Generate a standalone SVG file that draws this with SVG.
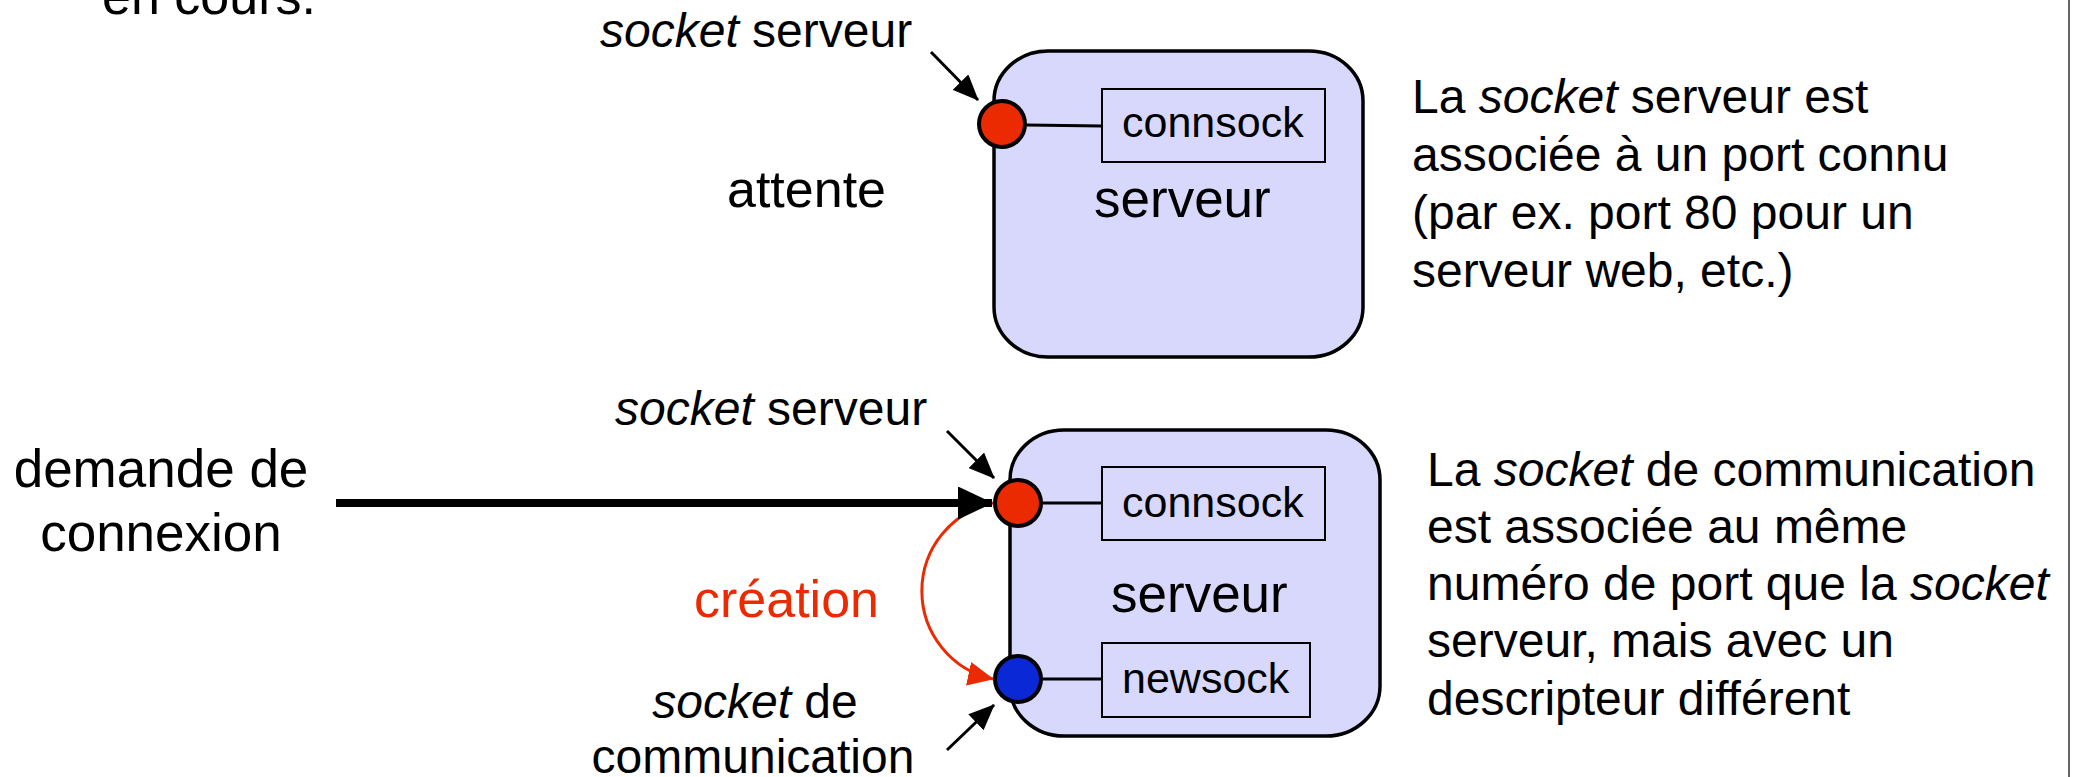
<svg xmlns="http://www.w3.org/2000/svg" width="2075" height="777" viewBox="0 0 2075 777">
<style>
text{font-family:"Liberation Sans",Arial,Helvetica,sans-serif;fill:#000}
.big{font-size:53px}
.lbl{font-size:48px}
.sock{font-size:43px}
.it{font-style:italic}
.box{fill:#D8D8FD;stroke:#000;stroke-width:3.5}
.inner{fill:none;stroke:#000;stroke-width:2}
.link{stroke:#000;stroke-width:3}
.red{fill:#EB2A02;stroke:#000;stroke-width:4}
.blue{fill:#0A28D6;stroke:#000;stroke-width:4}
.thin{stroke:#000;stroke-width:3;fill:none}
</style>
<defs>
<marker id="ah" viewBox="0 0 26 22" refX="25" refY="11" markerWidth="26" markerHeight="22" markerUnits="userSpaceOnUse" orient="auto"><path d="M0,0 L26,11 L0,22 z" fill="#000"/></marker>
<marker id="ahThick" viewBox="0 0 35 33" refX="34" refY="16.5" markerWidth="35" markerHeight="33" markerUnits="userSpaceOnUse" orient="auto"><path d="M0,0 L35,16.5 L0,33 z" fill="#000"/></marker>
<marker id="ahRed" viewBox="0 0 26 24" refX="25" refY="12" markerWidth="26" markerHeight="24" markerUnits="userSpaceOnUse" orient="auto"><path d="M0,0 L26,12 L0,24 z" fill="#EB2A02"/></marker>
</defs>

<line x1="2069" y1="0" x2="2069" y2="777" stroke="#333" stroke-width="1.5"/>

<g id="title">
<text class="big" x="102" y="14" style="font-size:52px">en cours.</text>
</g>

<g id="server-top">
<rect class="box" x="994" y="51" width="369" height="306" rx="54" ry="50"/>
<rect class="inner" x="1102" y="89" width="223" height="73"/>
<line class="link" x1="1026" y1="125" x2="1102" y2="126"/>
<circle class="red" cx="1002" cy="124" r="23"/>
<text class="sock" x="1122" y="137">connsock</text>
<text class="big" x="1094" y="217">serveur</text>
</g>

<g id="server-bottom">
<rect class="box" x="1010" y="430" width="370" height="306" rx="54" ry="50"/>
<rect class="inner" x="1102" y="467" width="223" height="73"/>
<rect class="inner" x="1102" y="643" width="208" height="74"/>
<line class="link" x1="1042" y1="503" x2="1102" y2="503"/>
<line class="link" x1="1042" y1="679" x2="1102" y2="679"/>
<circle class="red" cx="1018" cy="503" r="23"/>
<circle class="blue" cx="1018" cy="679" r="23"/>
<text class="sock" x="1122" y="517">connsock</text>
<text class="sock" x="1122" y="693">newsock</text>
<text class="big" x="1111" y="612">serveur</text>
</g>

<g id="labels">
<text class="lbl" x="600" y="47"><tspan class="it">socket</tspan> serveur</text>
<text class="big" x="727" y="207" style="font-size:52px">attente</text>
<text class="lbl" x="615" y="425"><tspan class="it">socket</tspan> serveur</text>
<text class="big" x="161" y="487" text-anchor="middle">demande de</text>
<text class="big" x="161" y="551" text-anchor="middle">connexion</text>
<text class="big" x="694" y="617" style="font-size:52px;fill:#EB2A02">création</text>
<text class="lbl" x="755" y="718" text-anchor="middle"><tspan class="it">socket</tspan> de</text>
<text class="lbl" x="753" y="773" text-anchor="middle">communication</text>
</g>

<g id="note-top">
<text class="lbl" x="1412" y="113">La <tspan class="it">socket</tspan> serveur est</text>
<text class="lbl" x="1412" y="171">associée à un port connu</text>
<text class="lbl" x="1412" y="229">(par ex. port 80 pour un</text>
<text class="lbl" x="1412" y="287">serveur web, etc.)</text>
</g>

<g id="note-bottom">
<text class="lbl" x="1427" y="486">La <tspan class="it">socket</tspan> de communication</text>
<text class="lbl" x="1427" y="543">est associée au même</text>
<text class="lbl" x="1427" y="600">numéro de port que la <tspan class="it">socket</tspan></text>
<text class="lbl" x="1427" y="657">serveur, mais avec un</text>
<text class="lbl" x="1427" y="715">descripteur différent</text>
</g>

<g id="connectors">
<line class="thin" x1="931" y1="52" x2="978" y2="100" marker-end="url(#ah)"/>
<line class="thin" x1="947" y1="431" x2="994" y2="478" marker-end="url(#ah)"/>
<line class="thin" x1="947" y1="750" x2="994" y2="705" marker-end="url(#ah)"/>
<path d="M993,503 A90,90 0 0 0 993,679" fill="none" stroke="#EB2A02" stroke-width="3" marker-end="url(#ahRed)"/>
<line x1="336" y1="503" x2="992" y2="503" stroke="#000" stroke-width="8" marker-end="url(#ahThick)"/>
</g>
</svg>
